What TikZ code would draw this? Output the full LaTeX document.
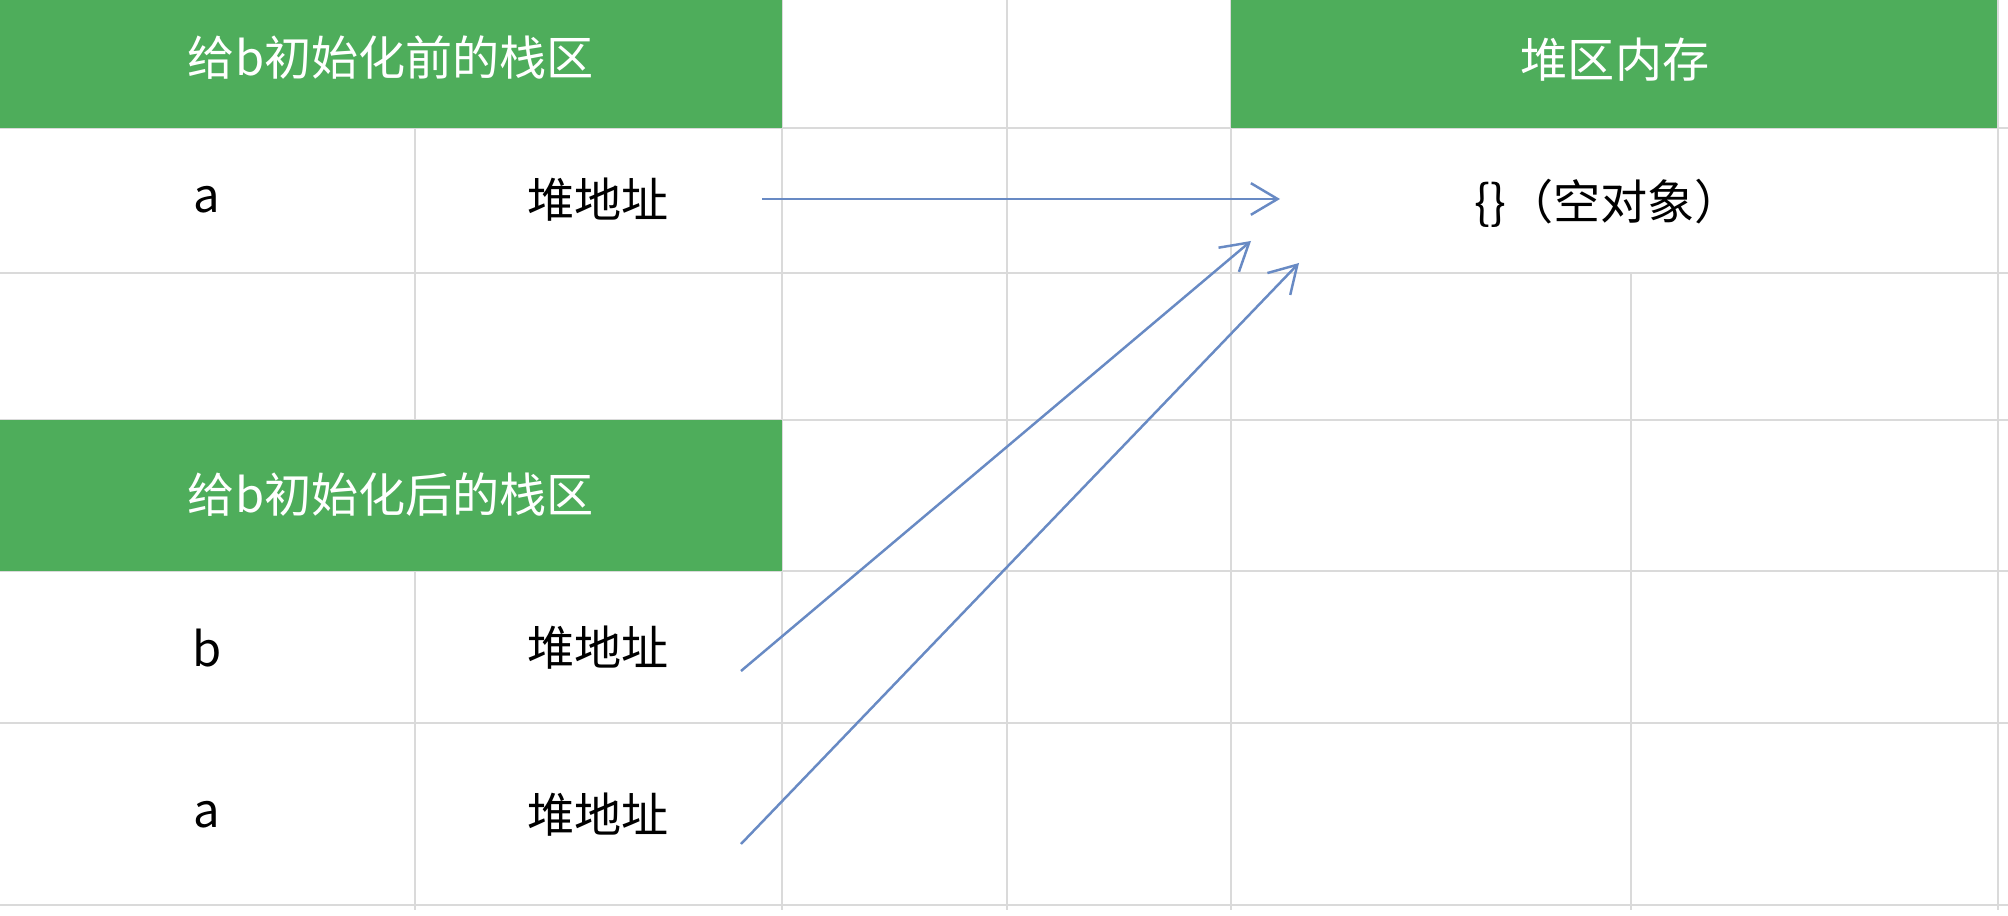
\documentclass[tikz,border=0pt]{standalone}
\usepackage{fontspec}
\setmainfont{Noto Sans CJK SC}
\usetikzlibrary{arrows.meta}
\definecolor{headgreen}{RGB}{78,173,91}
\definecolor{gridgray}{RGB}{218,218,218}
\definecolor{ptrblue}{RGB}{104,138,196}

\tikzset{
  cell/.style={font=\fontsize{13.4pt}{16pt}\selectfont, text=black, inner sep=0pt},
  headcell/.style={cell, text=white},
  gridline/.style={gridgray, line width=0.5pt},
  pointer/.style={ptrblue, line width=0.7pt, -{Straight Barb[length=7.6pt,width=9pt]}}
}

\begin{document}
\begin{tikzpicture}[x=0.01cm, y=-0.01cm]

\useasboundingbox (0,0) rectangle (2008,916);
\fill[white] (0,0) rectangle (2008,916);

% sheet grid
\draw[gridline] (0,128)--(2008,128) (0,273)--(2008,273) (0,420)--(2008,420);
\draw[gridline] (0,571)--(2008,571) (0,723)--(2008,723) (0,905)--(2008,905);
\draw[gridline] (415,128)--(415,910) (782,0)--(782,910) (1007,0)--(1007,910);
\draw[gridline] (1231,0)--(1231,910) (1631,273)--(1631,910) (1998,0)--(1998,910);

% header cells
\fill[headgreen] (0,0) rectangle (782,128);
\fill[headgreen] (1231,0) rectangle (1997,128);
\fill[headgreen] (0,420) rectangle (782,571);

\node[headcell] (stackBefore) at (391,58) {给b初始化前的栈区};
\node[headcell] (heapTitle) at (1615,60) {堆区内存};
\node[headcell] (stackAfter) at (391,495) {给b初始化后的栈区};

\node[cell] (varA) at (207,200) {a};
\node[cell] (addrA) at (598,200) {堆地址};
\node[cell] (heapObj) at (1608,203) {\{\}（空对象）};

\node[cell] (varB2) at (207,648) {b};
\node[cell] (addrB2) at (598,648) {堆地址};
\node[cell] (varA2) at (207,815) {a};
\node[cell] (addrA2) at (598,815) {堆地址};

% pointers into the heap
\coordinate (ptrA) at (762,199);
\coordinate (objA) at (1280,199);
\coordinate (ptrB2) at (741,671);
\coordinate (objB2) at (1251,241);
\coordinate (ptrA2) at (741,844);
\coordinate (objA2) at (1299,263);

\draw[pointer] (ptrA)--(objA);
\draw[pointer] (ptrB2)--(objB2);
\draw[pointer] (ptrA2)--(objA2);
\end{tikzpicture}
\end{document}
